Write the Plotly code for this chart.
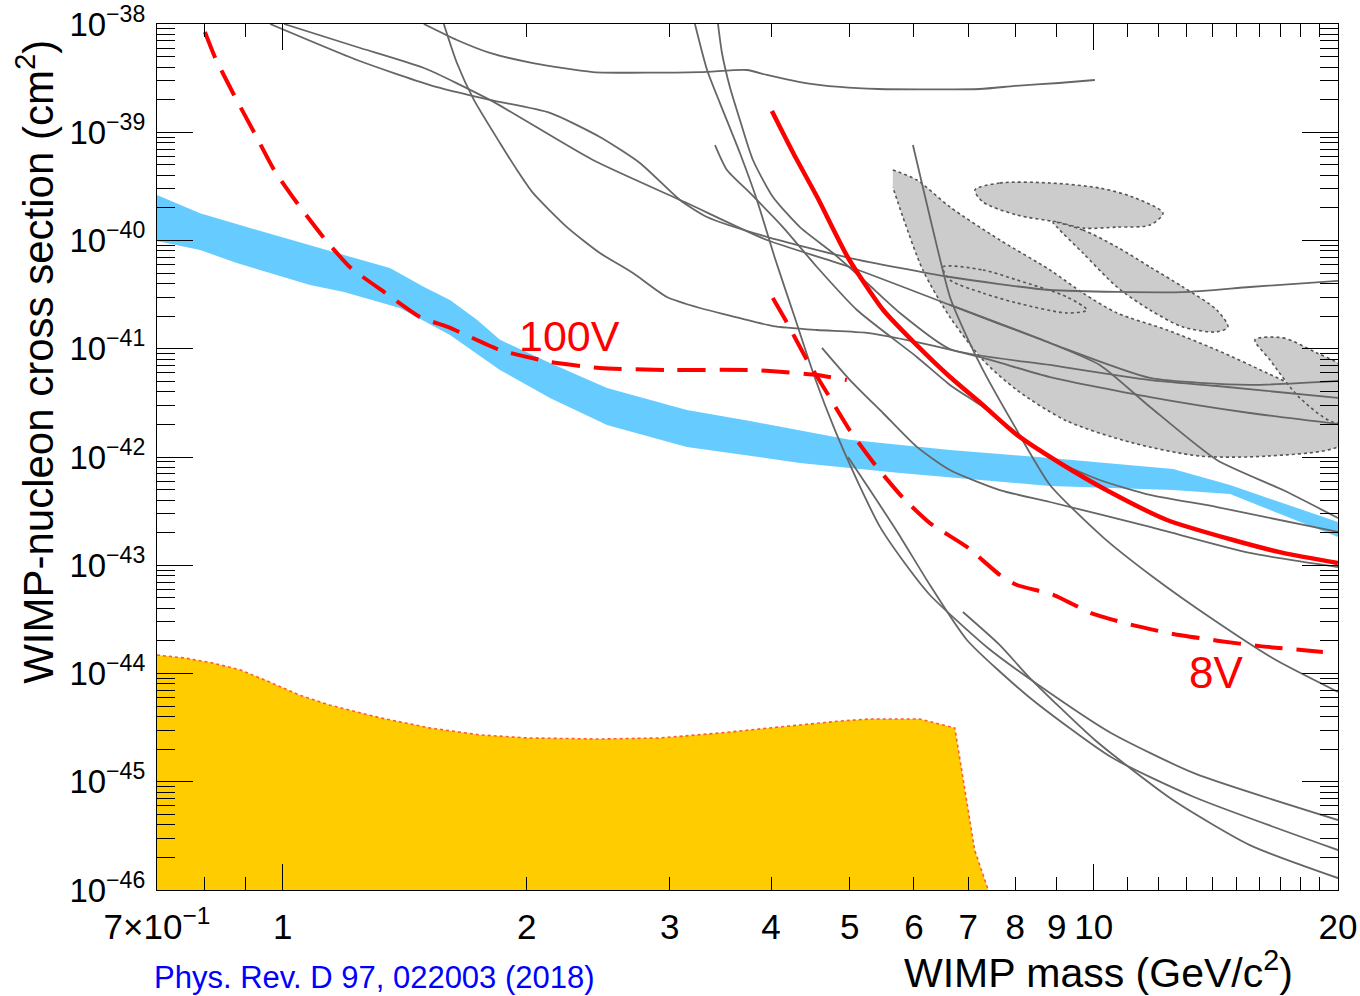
import plotly.graph_objects as go

# ---------------- data (WIMP mass in GeV/c^2, cross section in cm^2) ----------------
# 8 V and 100 V exclusion limits
limit_8v_mass = [4.01, 4.26, 4.56, 4.98, 5.50, 6.05, 6.65, 7.30, 8.04, 9.08, 10.47, 12.31, 14.85, 17.11, 20.0]
limit_8v_xsec = [1.57e-39, 6.43e-40, 2.52e-40, 6.89e-41, 2.28e-41, 1.08e-41, 5.48e-42, 3.02e-42,
                 1.60e-42, 8.81e-43, 4.75e-43, 2.62e-43, 1.71e-43, 1.30e-43, 1.05e-43]

sens_8v_mass = [4.02, 4.18, 4.43, 4.69, 5.0, 5.40, 5.82, 6.28, 6.98, 7.66, 8.04, 8.93, 9.92, 11.14,
                12.52, 14.27, 16.02, 19.16]
sens_8v_xsec = [2.94e-41, 1.77e-41, 7.87e-42, 3.90e-42, 1.77e-42, 8.09e-43, 4.18e-43, 2.45e-43, 1.47e-43,
                8.13e-44, 6.57e-44, 5.31e-44, 3.62e-44, 2.81e-44, 2.32e-44, 2.0e-44, 1.79e-44, 1.58e-44]

sens_100v_mass = [0.802, 0.825, 0.871, 0.922, 0.976, 1.042, 1.125, 1.21, 1.334, 1.477, 1.608, 1.853,
                  2.136, 2.46, 2.977, 3.77, 4.14, 4.56, 4.96]
sens_100v_xsec = [8.43e-39, 4.95e-39, 2.21e-39, 1.0e-39, 4.48e-40, 2.22e-40, 1.05e-40, 5.69e-41, 3.34e-41,
                  1.96e-41, 1.56e-41, 9.73e-42, 7.55e-42, 6.64e-42, 6.37e-42, 6.37e-42, 6.10e-42, 5.72e-42,
                  5.14e-42]

# Neutrino floor band
band_up_mass = [0.700, 0.791, 0.930, 1.072, 1.167, 1.356, 1.494, 1.608, 1.736, 1.853, 2.136, 2.511,
                3.15, 3.77, 5.0, 6.65, 8.83, 12.52, 14.72, 20.0]
band_up_xsec = [2.63e-40, 1.79e-40, 1.25e-40, 9.29e-41, 7.66e-41, 5.57e-41, 3.72e-41, 2.82e-41, 1.85e-41,
                1.21e-41, 7.38e-42, 4.34e-42, 2.72e-42, 2.15e-42, 1.44e-42, 1.16e-42, 9.8e-43, 7.74e-43,
                5.51e-43, 2.51e-43]
band_lo_mass = [0.700, 0.791, 0.878, 1.081, 1.190, 1.395, 1.608, 1.853, 2.136, 2.511, 3.15, 4.34, 5.77,
                8.83, 12.52, 14.72, 20.0]
band_lo_xsec = [9.9e-41, 8.17e-41, 6.19e-41, 3.88e-41, 3.34e-41, 2.38e-41, 1.34e-41, 6.37e-42, 3.51e-42,
                1.98e-42, 1.24e-42, 8.81e-43, 7.11e-43, 5.40e-43, 4.95e-43, 4.55e-43, 1.82e-43]

# Projected region (filled down to the axis)
proj_mass = [0.700, 0.758, 0.820, 0.886, 0.951, 1.05, 1.144, 1.318, 1.519, 1.75, 2.0, 2.46, 2.92, 3.46,
             4.10, 4.87, 5.30, 6.10, 6.74, 7.13, 7.41]
proj_xsec = [1.48e-44, 1.39e-44, 1.25e-44, 1.08e-44, 8.7e-45, 6.3e-45, 5.1e-45, 3.9e-45, 3.14e-45,
             2.71e-45, 2.54e-45, 2.48e-45, 2.54e-45, 2.82e-45, 3.21e-45, 3.64e-45, 3.80e-45, 3.80e-45,
             3.14e-45, 2.34e-46, 1.0e-46]

# Signal-claim contours
contour_a_mass = [5.652, 6.051, 6.647, 7.659, 8.830, 9.696, 10.68, 12.31, 14.18, 16.35, 18.84, 21.3,
                  20.0, 16.35, 13.52, 11.17, 9.265, 8.037, 7.300, 6.647, 6.155, 5.816, 5.652]
contour_a_xsec = [4.48e-40, 3.62e-40, 2.04e-40, 1.01e-40, 5.34e-41, 3.27e-41, 2.14e-41, 1.49e-41, 9.73e-42,
                  5.97e-42, 3.58e-42, 1.98e-42, 1.24e-42, 1.02e-42, 1.02e-42, 1.35e-42, 2.15e-42, 4.16e-42,
                  7.87e-42, 1.96e-41, 5.34e-41, 1.65e-40, 3.12e-40]
contour_b_mass = [7.136, 7.659, 8.830, 10.17, 11.17, 12.17, 11.73, 10.68, 9.696, 9.006, 8.037, 7.300, 7.136]
contour_b_xsec = [2.93e-40, 3.40e-40, 3.40e-40, 3.05e-40, 2.52e-40, 1.79e-40, 1.39e-40, 1.33e-40, 1.30e-40,
                  1.48e-40, 1.72e-40, 2.27e-40, 2.93e-40]
contour_c_mass = [8.905, 9.696, 10.68, 11.73, 12.88, 14.18, 14.63, 14.18, 12.88, 11.73, 10.68, 9.696, 9.006, 8.905]
contour_c_xsec = [1.48e-40, 1.25e-40, 8.71e-41, 5.69e-41, 3.72e-41, 2.28e-41, 1.59e-41, 1.43e-41, 1.59e-41,
                  2.28e-41, 3.72e-41, 7.66e-41, 1.33e-40, 1.48e-40]
contour_d_mass = [15.80, 17.11, 18.84, 20.0, 22.2, 20.0, 17.95, 16.49, 15.80]
contour_d_xsec = [1.21e-41, 1.26e-41, 9.14e-42, 7.38e-42, 4.16e-42, 2.06e-42, 3.51e-42, 7.87e-42, 1.21e-41]
contour_e_mass = [6.516, 7.300, 8.037, 9.265, 9.806, 9.265, 8.037, 7.300, 6.647, 6.516]
contour_e_xsec = [5.69e-41, 5.34e-41, 4.32e-41, 3.01e-41, 2.28e-41, 2.14e-41, 2.65e-41, 3.27e-41, 4.32e-41, 5.69e-41]

# Other experiments' limits: (mass, cross section) pairs
other_limits = [
    ([1.493, 1.640, 1.801, 2.035, 2.413, 3.268, 3.736, 3.954, 4.342, 4.864, 5.420, 7.237, 7.991, 9.058, 10.03],
     [1.0e-38, 7.11e-39, 5.40e-39, 4.36e-39, 3.60e-39, 3.60e-39, 3.76e-39, 3.38e-39, 2.91e-39, 2.62e-39,
      2.51e-39, 2.51e-39, 2.68e-39, 2.85e-39, 3.04e-39]),
    ([0.965, 1.235, 1.519, 1.801, 2.136, 2.461, 2.757, 3.089, 3.336, 3.954, 5.005, 6.647, 8.830, 12.88, 15.57, 20.0],
     [1.0e-38, 4.65e-39, 2.73e-39, 1.99e-39, 1.51e-39, 9.04e-40, 5.20e-40, 2.37e-40, 1.65e-40, 1.08e-40,
      6.89e-41, 4.60e-41, 3.49e-41, 3.34e-41, 3.72e-41, 4.23e-41]),
    ([1.004, 1.235, 1.493, 1.801, 2.413, 3.150, 3.954, 5.005, 6.647, 8.830, 11.73, 15.57, 20.0],
     [1.0e-38, 6.13e-39, 3.92e-39, 1.99e-39, 5.54e-40, 2.22e-40, 1.01e-40, 5.69e-41, 2.54e-41, 1.13e-41,
      5.37e-42, 4.63e-42, 5.04e-42]),
    ([6.647, 8.830, 10.17, 11.73, 14.18, 17.11, 20.0],
     [2.54e-41, 1.13e-41, 7.08e-42, 2.90e-42, 9.38e-43, 4.95e-43, 2.73e-43]),
    ([1.580, 1.640, 1.721, 1.853, 1.945, 2.035, 2.241, 2.461, 2.703, 2.977, 3.268, 3.662, 4.022, 4.557,
      5.252, 6.051, 7.300, 8.830, 11.73, 15.57, 20.0],
     [1.0e-38, 4.36e-39, 1.99e-39, 7.96e-40, 4.48e-40, 2.75e-40, 1.33e-40, 7.66e-41, 5.01e-41, 3.01e-41,
      2.38e-41, 1.92e-41, 1.62e-41, 1.49e-41, 1.40e-41, 1.15e-41, 8.22e-42, 5.48e-42, 3.58e-42, 2.55e-42,
      2.02e-42]),
    ([3.441, 3.480, 3.559, 3.662, 3.800, 4.022, 4.342, 4.769, 5.252, 5.768, 6.647, 8.830, 11.73, 14.18, 20.0],
     [1.0e-38, 5.40e-39, 2.62e-39, 1.30e-39, 5.54e-40, 2.52e-40, 1.33e-40, 7.66e-41, 4.05e-41, 2.14e-41,
      9.95e-42, 7.08e-42, 5.14e-42, 4.53e-42, 3.51e-42]),
    ([5.984, 6.138, 6.335, 6.647, 6.976, 7.300, 8.037, 8.830, 10.26, 11.83, 14.06, 16.77, 20.0],
     [7.62e-40, 3.40e-40, 1.25e-40, 3.01e-41, 1.28e-41, 6.37e-42, 1.77e-42, 5.51e-43, 1.82e-43, 7.79e-44,
      3.12e-44, 1.33e-44, 6.75e-45]),
    ([3.223, 3.336, 3.460, 3.662, 3.843, 4.044, 4.281, 4.531, 4.796, 5.105, 5.450, 5.867, 6.280, 7.404,
      8.830, 10.50, 13.29, 20.0],
     [1.0e-38, 3.76e-39, 1.86e-39, 6.43e-40, 2.37e-40, 6.89e-41, 1.92e-41, 5.37e-42, 1.77e-42, 6.13e-43,
      2.26e-43, 1.01e-43, 5.31e-44, 1.72e-44, 6.60e-45, 2.82e-45, 1.20e-45, 4.43e-46]),
    ([3.412, 3.530, 3.768, 4.137, 4.557, 5.105, 6.051, 6.647, 7.300, 8.037, 8.830, 10.17, 11.73, 14.18, 20.0],
     [7.62e-40, 4.48e-40, 2.75e-40, 1.33e-40, 5.69e-41, 2.28e-41, 8.39e-42, 4.63e-42, 2.90e-42, 1.67e-42,
      9.8e-43, 6.13e-43, 4.46e-43, 3.45e-43, 2.03e-43]),
    ([4.622, 5.005, 5.496, 6.051, 6.647, 7.659, 8.830, 11.73, 15.57, 20.0],
     [1.02e-41, 5.14e-42, 2.55e-42, 1.24e-42, 7.59e-43, 4.95e-43, 3.84e-43, 2.26e-43, 1.30e-43, 9.63e-44]),
    ([4.977, 5.297, 5.735, 6.280, 6.976, 8.318, 10.50, 13.29, 20.0],
     [1.0e-42, 4.95e-43, 1.99e-43, 6.57e-44, 2.04e-44, 6.07e-45, 1.69e-45, 7.23e-46, 2.34e-46]),
    ([6.896, 7.659, 8.318, 10.03, 12.52, 15.57, 20.0],
     [3.70e-44, 1.83e-44, 9.28e-45, 2.43e-45, 6.78e-46, 2.60e-46, 1.29e-46]),
]

x_tick_vals = [0.7, 1, 2, 3, 4, 5, 6, 7, 8, 9, 10, 20]
x_tick_text = ["7\u00d710<sup>\u22121</sup>", "1", "2", "3", "4", "5", "6", "7", "8", "9", "10", "20"]
y_decades = list(range(-46, -37))

# ---------------- styling ----------------
FONT = "Liberation Sans, Arial, Helvetica, sans-serif"
GRAY = "#666666"
RED = "#FF0000"

fig = go.Figure()


def closed(xs_top, ys_top, xs_bot, ys_bot):
    return list(xs_top) + list(xs_bot)[::-1], list(ys_top) + list(ys_bot)[::-1]


# signal contours (filled gray, dotted outline)
for cm, cx in [(contour_a_mass, contour_a_xsec), (contour_b_mass, contour_b_xsec),
               (contour_c_mass, contour_c_xsec), (contour_d_mass, contour_d_xsec)]:
    fig.add_trace(go.Scatter(x=cm, y=cx, mode="lines", fill="toself", fillcolor="#CCCCCC",
                             line=dict(color="#555555", width=1.6, dash="dot", shape="spline", smoothing=0.8),
                             hoverinfo="skip", showlegend=False))
fig.add_trace(go.Scatter(x=contour_e_mass, y=contour_e_xsec, mode="lines",
                         line=dict(color="#555555", width=1.6, dash="dot", shape="spline", smoothing=0.8),
                         hoverinfo="skip", showlegend=False))

# neutrino band
bx, by = closed(band_up_mass, band_up_xsec, band_lo_mass, band_lo_xsec)
fig.add_trace(go.Scatter(x=bx, y=by, mode="lines", fill="toself", fillcolor="#66CCFF",
                         line=dict(width=0, color="#66CCFF"), hoverinfo="skip", showlegend=False))

# projected region
px_ = list(proj_mass) + [proj_mass[-1], proj_mass[0]]
py_ = list(proj_xsec) + [1e-46, 1e-46]
fig.add_trace(go.Scatter(x=px_, y=py_, mode="lines", fill="toself", fillcolor="#FFCC00",
                         line=dict(width=0, color="#FFCC00"), hoverinfo="skip", showlegend=False))
fig.add_trace(go.Scatter(x=proj_mass, y=proj_xsec, mode="lines",
                         line=dict(color="#FF5A33", width=1.6, dash="dot"),
                         hoverinfo="skip", showlegend=False))

# other experiments
for m, s in other_limits:
    fig.add_trace(go.Scatter(x=m, y=s, mode="lines",
                             line=dict(color=GRAY, width=1.8, shape="spline", smoothing=0.6),
                             hoverinfo="skip", showlegend=False))

# this result
fig.add_trace(go.Scatter(x=sens_100v_mass, y=sens_100v_xsec, mode="lines",
                         line=dict(color=RED, width=4, dash="28px,14px", shape="spline", smoothing=0.5),
                         hoverinfo="skip", showlegend=False))
fig.add_trace(go.Scatter(x=sens_8v_mass, y=sens_8v_xsec, mode="lines",
                         line=dict(color=RED, width=4, dash="28px,14px", shape="spline", smoothing=0.5),
                         hoverinfo="skip", showlegend=False))
fig.add_trace(go.Scatter(x=limit_8v_mass, y=limit_8v_xsec, mode="lines",
                         line=dict(color=RED, width=4.5, shape="spline", smoothing=0.6),
                         hoverinfo="skip", showlegend=False))

# secondary x axis carrying the long ticks at 1 and 10
fig.add_trace(go.Scatter(x=[1], y=[1e-50], xaxis="x2", mode="markers", marker=dict(opacity=0),
                         hoverinfo="skip", showlegend=False))

x_minor = [0.8, 0.9] + list(range(2, 10)) + list(range(11, 20))
x_minor = [v for v in x_minor if v not in x_tick_vals]
y_minor = [k * 10.0 ** d for d in y_decades for k in range(2, 10)]

xr = [-0.154902, 1.30103]
fig.update_layout(
    width=1360, height=996,
    margin=dict(l=157, r=22, t=24, b=106, autoexpand=False),
    paper_bgcolor="white", plot_bgcolor="white",
    font=dict(family=FONT, color="black"),
    xaxis=dict(type="log", range=xr, showgrid=False, zeroline=False, automargin=False,
               showline=True, linecolor="black", linewidth=1.2, mirror="ticks",
               ticks="inside", ticklen=13, tickwidth=1.2, tickcolor="black",
               tickvals=x_tick_vals, ticktext=x_tick_text,
               tickfont=dict(size=35, family=FONT), ticklabelstandoff=6,
               minor=dict(tickmode="array", tickvals=x_minor, ticklen=13, tickwidth=1.2,
                          tickcolor="black", ticks="inside", showgrid=False)),
    xaxis2=dict(type="log", range=xr, overlaying="x", anchor="y", side="bottom", automargin=False,
                showgrid=False, zeroline=False, showline=False, mirror="ticks",
                ticks="inside", ticklen=26, tickwidth=1.2, tickcolor="black",
                tickvals=[1, 10], showticklabels=False),
    yaxis=dict(type="log", range=[-46, -38], showgrid=False, zeroline=False, automargin=False,
               showline=True, linecolor="black", linewidth=1.2, mirror="ticks",
               ticks="inside", ticklen=36, tickwidth=1.2, tickcolor="black",
               tickvals=[10.0 ** d for d in y_decades],
               ticktext=["10<sup>\u2212%d</sup>" % (-d) for d in y_decades],
               tickfont=dict(size=33, family=FONT), ticklabelstandoff=4,
               minor=dict(tickmode="array", tickvals=y_minor, ticklen=18, tickwidth=1.2,
                          tickcolor="black", ticks="inside", showgrid=False)),
)

fig.add_annotation(text="WIMP-nucleon cross section (cm<sup>2</sup>)", xref="paper", yref="paper",
                   x=-0.1033, y=0.984, xanchor="center", yanchor="top", textangle=-90,
                   showarrow=False, font=dict(size=42, family=FONT, color="black"))
fig.add_annotation(text="WIMP mass (GeV/c<sup>2</sup>)", xref="paper", yref="paper",
                   x=0.9636, y=-0.092, xanchor="right", yanchor="middle",
                   showarrow=False, font=dict(size=41, family=FONT, color="black"))
fig.add_annotation(text="Phys. Rev. D 97, 022003 (2018)", xref="paper", yref="paper",
                   x=-0.0042, y=-0.1005, xanchor="left", yanchor="middle",
                   showarrow=False, font=dict(size=31, family=FONT, color="#0000FF"))
fig.add_annotation(text="100V", xref="paper", yref="paper", x=0.3497, y=0.6397,
                   xanchor="center", yanchor="middle", showarrow=False,
                   font=dict(size=43, family=FONT, color=RED))
fig.add_annotation(text="8V", xref="paper", yref="paper", x=0.8967, y=0.2506,
                   xanchor="center", yanchor="middle", showarrow=False,
                   font=dict(size=44, family=FONT, color=RED))

fig.write_html("out.html")
